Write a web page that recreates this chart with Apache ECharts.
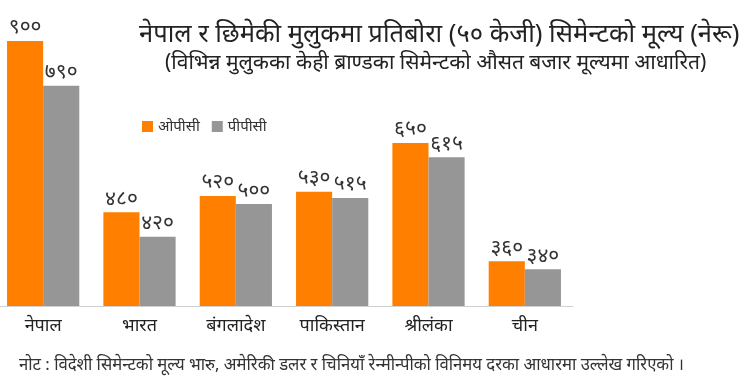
<!DOCTYPE html>
<html><head><meta charset="utf-8">
<script src="https://cdn.jsdelivr.net/npm/echarts@6/dist/echarts.min.js"></script>
<style>html,body{margin:0;padding:0;background:#fff}#c{width:750px;height:385px}</style>
</head><body><div id="c"></div>
<script>
const categories = ['नेपाल','भारत','बंगलादेश','पाकिस्तान','श्रीलंका','चीन'];
const opcValues = [900, 480, 520, 530, 650, 360];
const ppcValues = [790, 420, 500, 515, 615, 340];
const seriesNames = ['ओपीसी','पीपीसी'];
const titleText = 'नेपाल र छिमेकी मुलुकमा प्रतिबोरा (५० केजी) सिमेन्टको मूल्य (नेरू)';
const subtitleText = '(विभिन्न मुलुकका केही ब्राण्डका सिमेन्टको औसत बजार मूल्यमा आधारित)';
const noteText = 'नोट : विदेशी सिमेन्टको मूल्य भारु, अमेरिकी डलर र चिनियाँ रेन्मीन्पीको विनिमय दरका आधारमा उल्लेख गरिएको ।';

const devDigits = '०१२३४५६७८९';
const toDev = n => String(n).replace(/[0-9]/g, d => devDigits[+d]);
const FONT = "'Noto Sans', 'Noto Sans Devanagari', sans-serif";

const chart = echarts.init(document.getElementById('c'));
const labelCfg = {show:true, position:'top', distance:3, color:'#333', fontSize:21, fontFamily:FONT,
  formatter: p => toDev(p.value)};
chart.setOption({
  animation:false,
  textStyle:{fontFamily:FONT},
  title:[
    {text:titleText, left:134, top:17, textStyle:{fontSize:25.5, fontWeight:'normal', color:'#222', fontFamily:FONT}},
    {text:subtitleText, left:160, top:48, textStyle:{fontSize:21, fontWeight:'normal', color:'#222', fontFamily:FONT}},
    {text:noteText, left:14, top:352, textStyle:{fontSize:16.7, fontWeight:'normal', color:'#333', fontFamily:FONT}}
  ],
  legend:{left:137, top:114, itemWidth:11, itemHeight:11, itemGap:12, icon:'rect',
    textStyle:{fontSize:15, color:'#333', fontFamily:FONT}, data:seriesNames},
  grid:{left:-5, top:41, width:578, height:265, containLabel:false, outerBoundsMode:'none'},
  xAxis:{type:'category', data:categories,
    axisLine:{lineStyle:{color:'#d0d0d0', width:1}}, axisTick:{show:false},
    axisLabel:{color:'#222', fontSize:18, margin:11, fontFamily:FONT}},
  yAxis:{type:'value', min:250, max:900, show:false, splitLine:{show:false}},
  series:[
    {name:seriesNames[0], type:'bar', data:opcValues, barGap:'0%', barCategoryGap:'25%',
      itemStyle:{color:'#ff8000'}, label:labelCfg},
    {name:seriesNames[1], type:'bar', data:ppcValues, barGap:'0%', barCategoryGap:'25%',
      itemStyle:{color:'#969696'}, label:labelCfg}
  ]
});
</script></body></html>
